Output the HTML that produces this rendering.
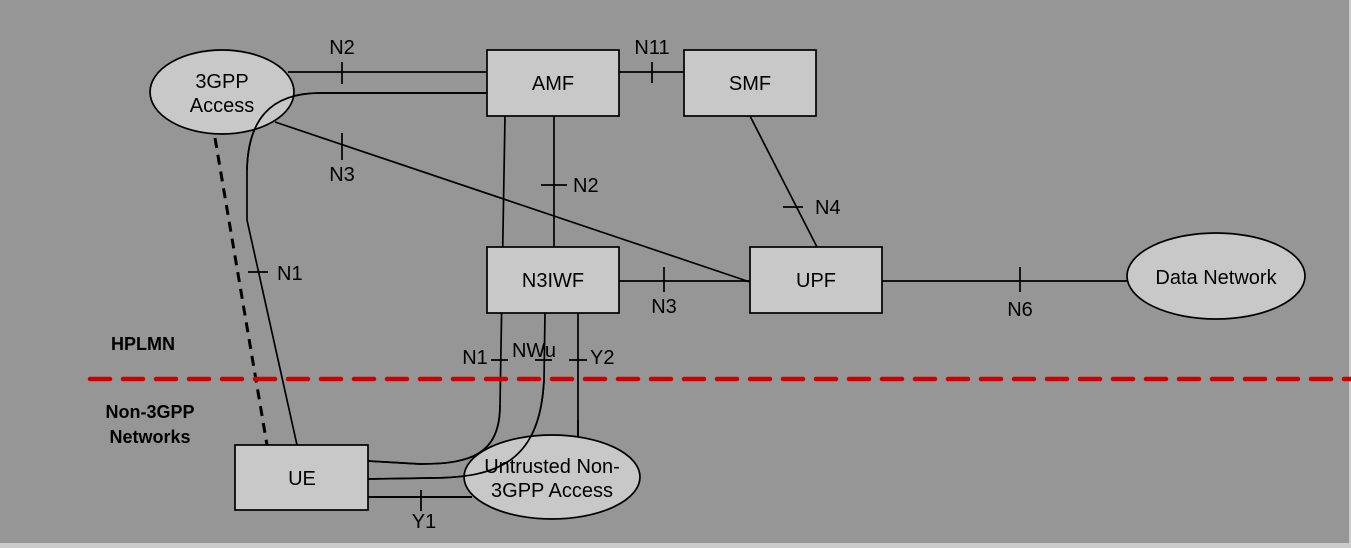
<!DOCTYPE html>
<html><head><meta charset="utf-8"><style>
html,body{margin:0;padding:0;background:#cbcbcb;}
svg{display:block;font-family:"Liberation Sans",sans-serif;}
</style></head><body>
<svg width="1351" height="548" viewBox="0 0 1351 548" xmlns="http://www.w3.org/2000/svg">
<rect x="0" y="0" width="1349" height="543" fill="#969696"/>
<g stroke="#000" stroke-width="1.7" fill="none">
<line x1="288" y1="72" x2="487" y2="72"/><line x1="342" y1="62" x2="342" y2="84"/>
<path d="M487,93 L320,93 C270,93 248,120 247,170 L247,220 L297,445"/>
<line x1="248" y1="272" x2="268" y2="272"/>
<line x1="275" y1="122" x2="750" y2="282"/><line x1="342" y1="133" x2="342" y2="160"/>
<line x1="619" y1="72" x2="684" y2="72"/><line x1="652" y1="62" x2="652" y2="83"/>
<line x1="554" y1="116" x2="554" y2="247"/><line x1="541" y1="185" x2="567" y2="185"/>
<path d="M505,116 L500,405 C500,455 470,464 420,464 L368,461"/>
<line x1="491" y1="360" x2="508" y2="360"/>
<path d="M545,313 L544,380 C540,460 500,478 430,478 L368,479"/>
<line x1="535" y1="360" x2="552" y2="360"/>
<line x1="578" y1="313" x2="578" y2="437"/><line x1="569" y1="360" x2="587" y2="360"/>
<line x1="750" y1="116" x2="817" y2="247"/><line x1="783" y1="207" x2="803" y2="207"/>
<line x1="619" y1="281" x2="750" y2="281"/><line x1="664" y1="267" x2="664" y2="292"/>
<line x1="882" y1="281" x2="1128" y2="281"/><line x1="1020" y1="267" x2="1020" y2="292"/>
<line x1="368" y1="497" x2="472" y2="497"/><line x1="421" y1="490" x2="421" y2="511"/>
<line x1="215" y1="138" x2="267" y2="445" stroke-width="3" stroke-dasharray="10,7"/>
</g>
<line x1="90" y1="379" x2="1351" y2="379" stroke="#cc0000" stroke-width="4.5" stroke-dasharray="20,13" stroke-linecap="round"/>
<g stroke="#000" stroke-width="1.7" fill="#c8c8c8">
<rect x="487" y="50" width="132" height="66"/>
<rect x="684" y="50" width="132" height="66"/>
<rect x="487" y="247" width="132" height="66"/>
<rect x="750" y="247" width="132" height="66"/>
<rect x="235" y="445" width="133" height="65"/>
<ellipse cx="1216" cy="276" rx="89" ry="43"/>
</g>
<ellipse cx="222" cy="92" rx="71" ry="41" fill="#c8c8c8"/>
<ellipse cx="552" cy="477" rx="87" ry="41" fill="#c8c8c8"/>
<g stroke="#000" stroke-width="1.7" fill="none">
<ellipse cx="222" cy="92" rx="72" ry="42"/>
<ellipse cx="552" cy="477" rx="88" ry="42"/>
<path d="M487,93 L320,93 C270,93 248,120 247,170"/>
<path d="M500,405 C500,455 470,464 420,464 L368,461"/>
<path d="M544,380 C540,460 500,478 430,478 L368,479"/>
<line x1="368" y1="497" x2="472" y2="497"/>
<line x1="578" y1="420" x2="578" y2="437"/>
</g>
<g font-size="20" fill="#000" text-anchor="middle">
<text x="222" y="88">3GPP</text><text x="222" y="112">Access</text>
<text x="553" y="90">AMF</text>
<text x="750" y="90">SMF</text>
<text x="553" y="287">N3IWF</text>
<text x="816" y="287">UPF</text>
<text x="1216" y="284">Data Network</text>
<text x="302" y="485">UE</text>
<text x="552" y="473">Untrusted Non-</text><text x="552" y="497">3GPP Access</text>
<text x="342" y="54">N2</text>
<text x="342" y="181">N3</text>
<text x="652" y="54">N11</text>
<text x="573" y="192" text-anchor="start">N2</text>
<text x="277" y="280" text-anchor="start">N1</text>
<text x="815" y="214" text-anchor="start">N4</text>
<text x="664" y="313">N3</text>
<text x="1020" y="316">N6</text>
<text x="475" y="364">N1</text>
<text x="534" y="357">NWu</text>
<text x="590" y="364" text-anchor="start">Y2</text>
<text x="424" y="528">Y1</text>
</g>
<g font-size="18" font-weight="bold" fill="#000" text-anchor="middle">
<text x="143" y="350">HPLMN</text>
<text x="150" y="418">Non-3GPP</text>
<text x="150" y="443">Networks</text>
</g>
</svg>
</body></html>
